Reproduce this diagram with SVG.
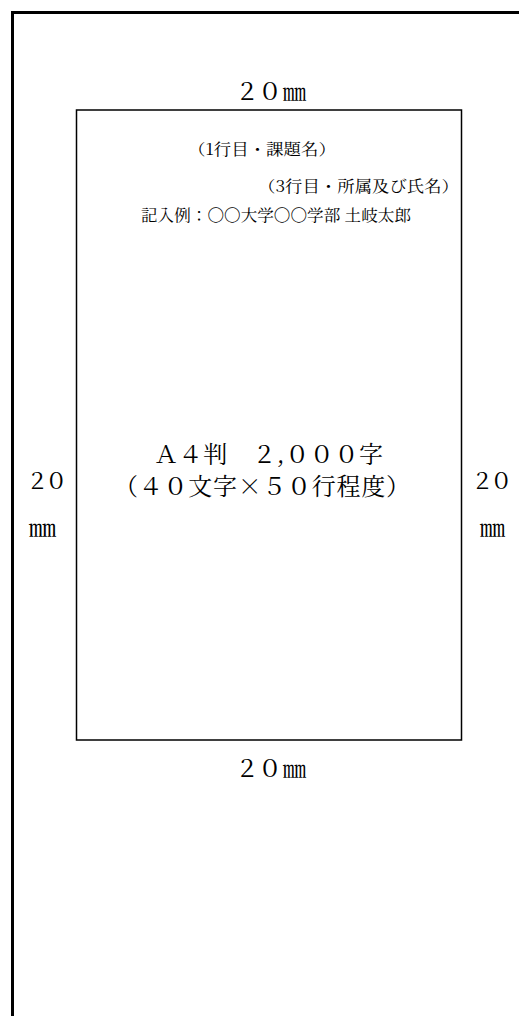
<svg xmlns="http://www.w3.org/2000/svg" width="519" height="1016" viewBox="0 0 519 1016">
  <style>
    .t { font-family: "Noto Serif CJK JP", "Liberation Serif", "Noto Sans CJK JP", serif; fill: #000; }
    .dig { font-size: 24px; }
    .mm { font-size: 23px; }
    .dims { font-size: 22.5px; }
    .big { font-size: 24px; }
    .small { font-size: 15.5px; }
  </style>
  <rect x="0" y="0" width="519" height="1016" fill="#fff"/>
  <g id="frame">
    <path d="M12.5,1016 V12.5 H519" fill="none" stroke="#000" stroke-width="3"/>
  </g>
  <g id="page">
    <rect x="76.5" y="110" width="385" height="630" fill="none" stroke="#000" stroke-width="1.5"/>
    <text class="t small" x="188" y="155" textLength="148" lengthAdjust="spacingAndGlyphs">（1行目・課題名）</text>
    <text class="t small" x="258" y="192" textLength="201" lengthAdjust="spacingAndGlyphs">（3行目・所属及び氏名）</text>
    <text class="t small" x="141" y="221" textLength="270" lengthAdjust="spacingAndGlyphs">記入例：〇〇大学〇〇学部 土岐太郎</text>
    <text class="t big" x="154" y="463" textLength="229" lengthAdjust="spacing">Ａ４判　２,０００字</text>
    <text class="t big" x="114" y="495" textLength="296" lengthAdjust="spacing">（４０文字×５０行程度）</text>
  </g>
  <g id="dim-top">
    <text class="t" y="100"><tspan class="dig" x="235 258">２０</tspan><tspan class="mm" x="283">㎜</tspan></text>
  </g>
  <g id="dim-bottom">
    <text class="t" y="777"><tspan class="dig" x="235 258">２０</tspan><tspan class="mm" x="283">㎜</tspan></text>
  </g>
  <g id="dim-left">
    <text class="t dims" x="26 45" y="489">２０</text>
    <text class="t mm" x="29" y="536" textLength="27" lengthAdjust="spacingAndGlyphs">㎜</text>
  </g>
  <g id="dim-right">
    <text class="t dims" x="471 490" y="489">２０</text>
    <text class="t mm" x="480" y="536" textLength="25" lengthAdjust="spacingAndGlyphs">㎜</text>
  </g>
</svg>
